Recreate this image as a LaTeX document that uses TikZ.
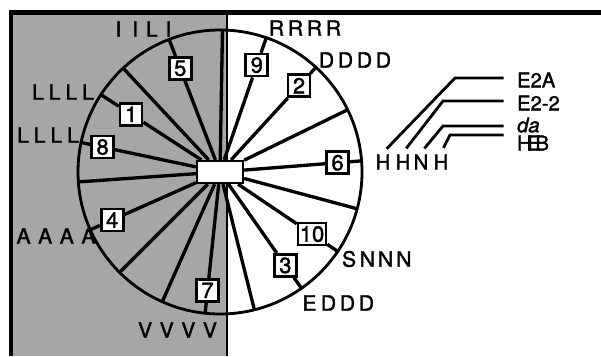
\documentclass[tikz,border=0pt]{standalone}
\usepackage{fontspec}
\setmainfont{TeX Gyre Heros}
\newfontfamily\heavy[FakeBold=1.6]{TeX Gyre Heros}
\usetikzlibrary{calc,positioning}
\newlength\chw
\newcommand\ch[1]{\makebox[\chw]{#1}}

\begin{document}
\begin{tikzpicture}[x=0.02cm,y=0.02cm]
  \tikzstyle{ray} = [line width=1.9pt]
  \tikzstyle{nbox} = [draw, line width=1.5pt, fill=white, minimum size=0.44cm, inner sep=1pt, font=\heavy\fontsize{12.5}{13}\selectfont]
  \tikzstyle{seq} = [inner sep=0pt, font=\heavy\fontsize{12}{13}\selectfont, execute at begin node={\setlength\chw{#1}}]
  \tikzstyle{lab} = [inner sep=1pt, font=\heavy\fontsize{11.5}{13}\selectfont]
  \tikzstyle{leg} = [line width=1.6pt, shorten <=3pt, shorten >=6.5pt]

  \useasboundingbox (0,0) rectangle (601,356);

  % shaded half and frame
  \fill[black!35] (13,0) rectangle (227,343);
  \draw[line width=1.7pt] (227,0) -- (227,343);
  \draw[line width=2.6pt] (11,0) -- (11,343.5) -- (601,343.5);

  \coordinate (c) at (220,184);
  \draw[line width=1.6pt] (c) circle[radius=142];
  \node[draw, line width=1.3pt, fill=white, minimum width=0.92cm, minimum height=0.44cm, inner sep=0pt] (hub) at (c) {};

  % plain spokes
  \foreach \a in {89,133,184,225,246,26,345,284} {
    \coordinate (r\a) at ($(c)+(\a:142)$);
    \draw[ray] (hub) -- (r\a);
  }

  % numbered spokes
  \node[nbox] (n1) at ($(c)+(147:106)$) {1};
  \node[nbox] (n2) at ($(c)+(47.5:117)$) {2};
  \node[nbox] (n3) at ($(c)+(305:114)$) {3};
  \node[nbox] (n4) at ($(c)+(204:118)$) {4};
  \node[nbox] (n5) at ($(c)+(111:111)$) {5};
  \node[nbox] (n6) at ($(c)+(4.5:118)$) {6};
  \node[nbox] (n7) at ($(c)+(264:119)$) {7};
  \node[nbox] (n8) at ($(c)+(168:120)$) {8};
  \node[nbox] (n9) at ($(c)+(71:113)$) {9};
  \node[nbox] (n10) at ($(c)+(326:111)$) {10};

  \coordinate (e1) at ($(c)+(147:142)$);
  \coordinate (e2) at ($(c)+(47.5:142)$);
  \coordinate (e3) at ($(c)+(305:142)$);
  \coordinate (e4) at ($(c)+(204:142)$);
  \coordinate (e5) at ($(c)+(111:142)$);
  \coordinate (e6) at ($(c)+(4.5:142)$);
  \coordinate (e7) at ($(c)+(264:142)$);
  \coordinate (e8) at ($(c)+(168:142)$);
  \coordinate (e9) at ($(c)+(71:142)$);
  \coordinate (e10) at ($(c)+(326:142)$);

  \draw[ray] (hub) -- (n1) -- (e1);
  \draw[ray] (hub) -- (n2) -- (e2);
  \draw[ray] (hub) -- (n3) -- (e3);
  \draw[ray] (hub) -- (n4) -- (e4);
  \draw[ray] (hub) -- (n5) -- (e5);
  \draw[ray] (hub) -- (n6) -- (e6);
  \draw[ray] (hub) -- (n7) -- (e7);
  \draw[ray] (hub) -- (n8) -- (e8);
  \draw[ray] (hub) -- (n9) -- (e9);
  \draw[ray] (hub) -- (n10) -- (e10);

  % rim sequences
  \node[seq=9.5pt] (iili) at (143.5,327) {\ch I\ch I\ch L\ch I};
  \node[seq=9.5pt] (lup) at (63,264) {\ch L\ch L\ch L\ch L};
  \node[seq=9.5pt] (llow) at (48,221) {\ch L\ch L\ch L\ch L};
  \node[seq=12.3pt] (aaaa) at (56,120) {\ch A\ch A\ch A\ch A};
  \node[seq=12.3pt] (vvvv) at (177.5,26) {\ch V\ch V\ch V\ch V};
  \node[seq=10.8pt] (rrrr) at (305,328) {\ch R\ch R\ch R\ch R};
  \node[seq=10.8pt] (dddd) at (355,296) {\ch D\ch D\ch D\ch D};
  \node[seq=10.4pt] (snnn) at (376.5,97) {\ch S\ch N\ch N\ch N};
  \node[seq=10.8pt] (eddd) at (338,53) {\ch E\ch D\ch D\ch D};

  % legend
  \node[lab] (h1) at (383,194) {H};
  \node[lab] (h2) at (403,194) {H};
  \node[lab] (h3) at (421,194) {N};
  \node[lab] (h4) at (441,194) {H};
  \node[lab, anchor=west] (e2a) at (515,276) {E2A};
  \node[lab, anchor=west] (e22) at (515,253) {E2-2};
  \node[lab, anchor=west] (da) at (515,231) {\itshape da};
  \node[lab, anchor=west] (heb) at (515,213) {H\kern-2.5pt E\kern-3pt B};

  \coordinate (k1) at (455,278);
  \coordinate (k2) at (443,255);
  \coordinate (k3) at (443,230);
  \coordinate (k4) at (450,221);
  \draw[leg] (h1.north) -- (k1) -- (k1 -| e2a.west);
  \draw[leg] (h2.north) -- (k2) -- (k2 -| e22.west);
  \draw[leg] (h3.north) -- (k3) -- (k3 -| da.west);
  \draw[leg] (h4.north) -- (k4) -- (k4 -| heb.west);
\end{tikzpicture}
\end{document}
